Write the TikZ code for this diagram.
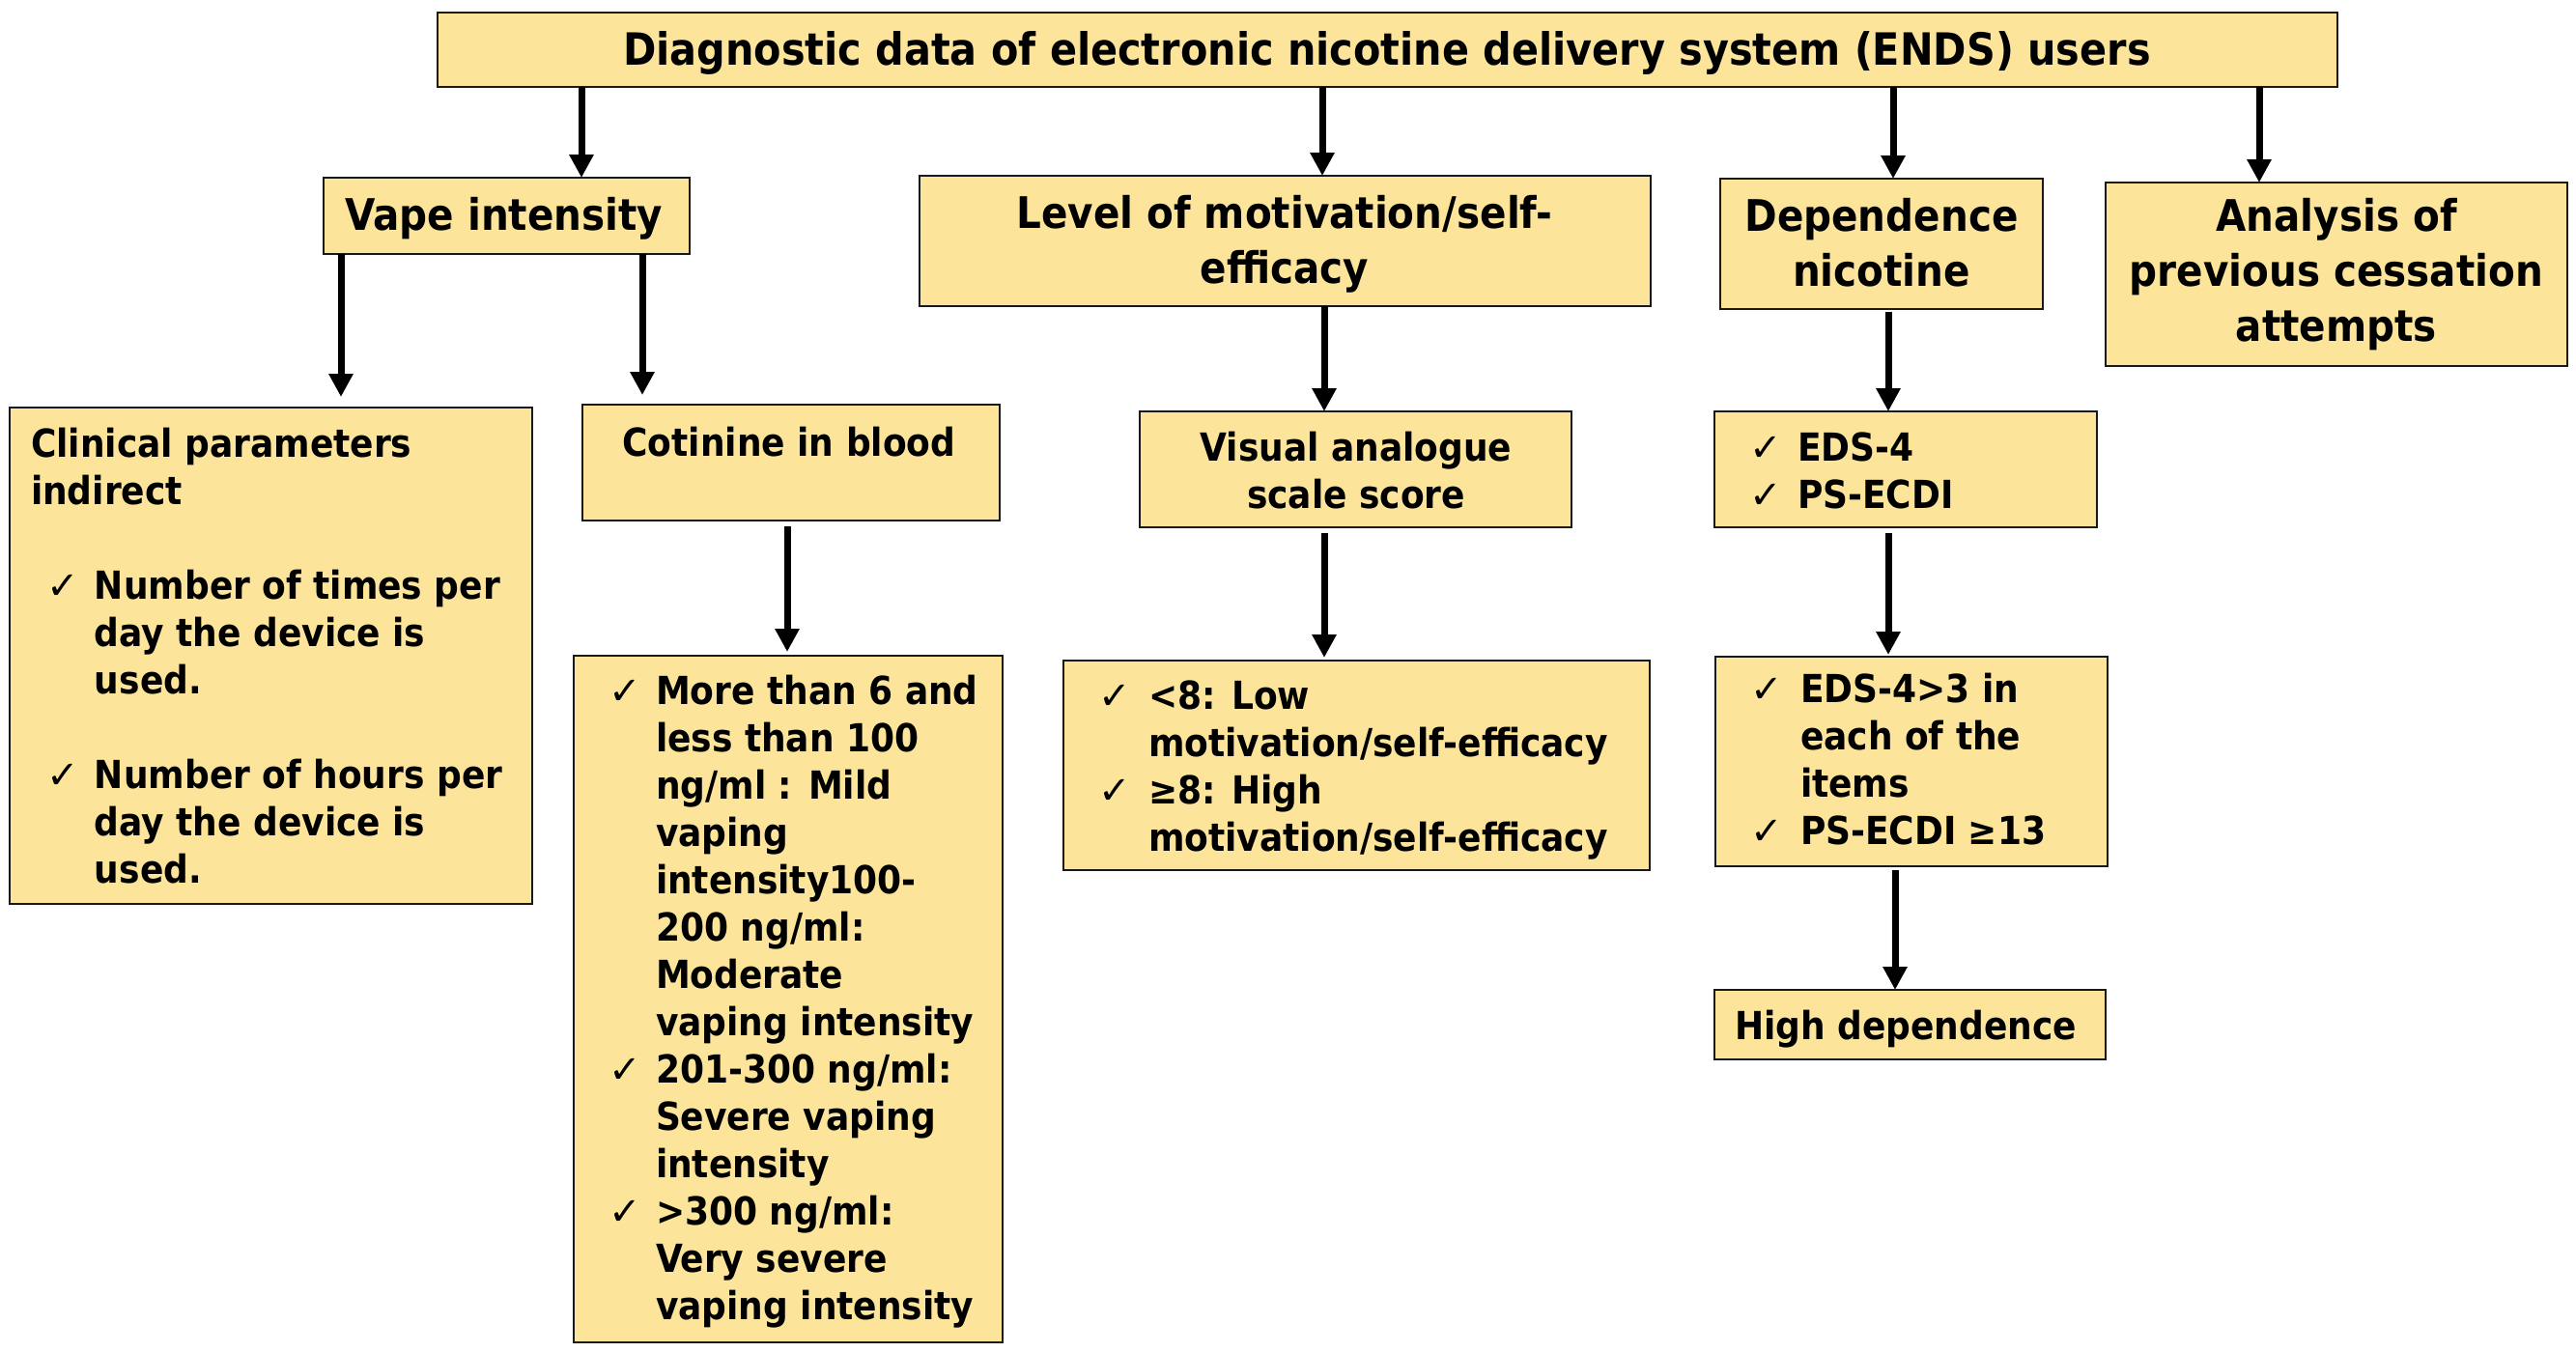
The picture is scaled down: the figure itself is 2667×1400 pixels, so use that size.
\documentclass[tikz,border=0pt]{standalone}
\usepackage{fontspec}
\setmainfont{DejaVu Sans Condensed}[BoldFont={DejaVu Sans Condensed Bold}]
\newfontfamily\chkfont{DejaVu Sans}
\usetikzlibrary{arrows.meta}
\definecolor{boxfill}{RGB}{252,229,155}
\definecolor{boxline}{RGB}{25,25,25}
\newcommand{\ck}{{\chkfont\mdseries\fontsize{40}{49}\selectfont ✓}}
\newcommand{\bx}[5]{\node[box, minimum width={#4-#2}, minimum height={#5-#3}] (#1) at ({(#2+#4)/2},{(#3+#5)/2}) {};}
\begin{document}
\begin{tikzpicture}[x=1pt,y=-1pt,
  box/.style={draw=boxline, line width=2.2pt, fill=boxfill, rectangle, inner sep=0pt, outer sep=0pt},
  arr/.style={line width=7pt, -{Triangle[width=24pt,length=24pt]}},
  bodytxt/.style={font=\fontsize{40}{49}\selectfont\bfseries, inner sep=0pt, outer sep=0pt},
  headtxt/.style={font=\fontsize{45}{57}\selectfont\bfseries, inner sep=0pt, outer sep=0pt},
  titletxt/.style={font=\fontsize{46}{58}\selectfont\bfseries, inner sep=0pt, outer sep=0pt}]
\useasboundingbox (0,0) rectangle (2667,1400);

% boxes
\bx{top}{453}{13}{2420}{90}
\bx{vape}{335}{184}{714}{263}
\bx{level}{952}{182}{1709}{317}
\bx{dep}{1781}{185}{2115}{320}
\bx{anal}{2180}{189}{2658}{379}
\bx{clin}{10}{422}{551}{936}
\bx{cot}{603}{419}{1035}{539}
\bx{cotlist}{594}{679}{1038}{1390}
\bx{vas}{1180}{426}{1627}{546}
\bx{motlist}{1101}{684}{1708}{901}
\bx{eds}{1775}{426}{2171}{546}
\bx{edslist}{1776}{680}{2182}{897}
\bx{high}{1775}{1025}{2180}{1097}

% texts
\node[titletxt, anchor=base] (ttitle) at (1436,67) {Diagnostic data of electronic nicotine delivery system (ENDS) users};
\node[headtxt, anchor=base] (tvape) at (522,238) {Vape intensity};
\node[headtxt, anchor=north] (tlevel) at (1330,197) {\begin{tabular}{@{}c@{}}Level of motivation/self-\\efficacy\end{tabular}};
\node[headtxt, anchor=north] (tdep) at (1948,199.1) {\begin{tabular}{@{}c@{}}Dependence\\nicotine\end{tabular}};
\node[headtxt, anchor=north] (tanal) at (2419,200) {\begin{tabular}{@{}c@{}}Analysis of\\previous cessation\\attempts\end{tabular}};

\node[bodytxt, anchor=north west] (tclin) at (32,438.7) {\begin{tabular}{@{}p{16pt}@{}p{50pt}@{}l@{}}
\multicolumn{3}{@{}l@{}}{Clinical parameters}\\
\multicolumn{3}{@{}l@{}}{indirect}\\
 & & \\
 & \ck & Number of times per\\
 & & day the device is\\
 & & used.\\
 & & \\
 & \ck & Number of hours per\\
 & & day the device is\\
 & & used.
\end{tabular}};

\node[bodytxt, anchor=base] (tcot) at (817,472) {Cotinine in blood};

\node[bodytxt, anchor=north west] (tcotlist) at (630,694.7) {\begin{tabular}{@{}p{49pt}@{}l@{}}
\ck & More than 6 and\\
 & less than 100\\
 & ng/ml : Mild\\
 & vaping\\
 & intensity100-\\
 & 200 ng/ml:\\
 & Moderate\\
 & vaping intensity\\
\ck & 201-300 ng/ml:\\
 & Severe vaping\\
 & intensity\\
\ck & >300 ng/ml:\\
 & Very severe\\
 & vaping intensity
\end{tabular}};

\node[bodytxt, anchor=north] (tvas) at (1404,442.7) {\begin{tabular}{@{}c@{}}Visual analogue\\scale score\end{tabular}};

\node[bodytxt, anchor=north west] (tmot) at (1137,699.7) {\begin{tabular}{@{}p{52pt}@{}l@{}}
\ck & <8: Low\\
 & motivation/self-efficacy\\
\ck & ≥8: High\\
 & motivation/self-efficacy
\end{tabular}};

\node[bodytxt, anchor=north west] (teds) at (1811,442.7) {\begin{tabular}{@{}p{50pt}@{}l@{}}
\ck & EDS-4\\
\ck & PS-ECDI
\end{tabular}};

\node[bodytxt, anchor=north west] (tedslist) at (1812,692.7) {\begin{tabular}{@{}p{52pt}@{}l@{}}
\ck & EDS-4>3 in\\
 & each of the\\
 & items\\
\ck & PS-ECDI ≥13
\end{tabular}};

\node[bodytxt, anchor=base west] (thigh) at (1796,1076) {High dependence};

% connector x positions
\coordinate (x1) at (602,0);
\coordinate (x2) at (1369,0);
\coordinate (x3) at (1960,0);
\coordinate (x4) at (2339,0);
\coordinate (x5) at (353,0);
\coordinate (x6) at (665,0);
\coordinate (x7) at (815,0);
\coordinate (x8) at (1371,0);
\coordinate (x9) at (1955,0);
\coordinate (x10) at (1962,0);

\draw[arr] (top.south -| x1) -- (vape.north -| x1);
\draw[arr] (top.south -| x2) -- (level.north -| x2);
\draw[arr] (top.south -| x3) -- (dep.north -| x3);
\draw[arr] (top.south -| x4) -- (anal.north -| x4);
\draw[arr, shorten >=11pt] (vape.south -| x5) -- (clin.north -| x5);
\draw[arr, shorten >=10pt] (vape.south -| x6) -- (cot.north -| x6);
\draw[arr, shorten <=6pt, shorten >=4pt] (cot.south -| x7) -- (cotlist.north -| x7);
\draw[arr] (level.south -| x8) -- (vas.north -| x8);
\draw[arr, shorten <=6pt, shorten >=3pt] (vas.south -| x8) -- (motlist.north -| x8);
\draw[arr, shorten <=3pt] (dep.south -| x9) -- (eds.north -| x9);
\draw[arr, shorten <=6pt, shorten >=2pt] (eds.south -| x9) -- (edslist.north -| x9);
\draw[arr, shorten <=4pt] (edslist.south -| x10) -- (high.north -| x10);
\end{tikzpicture}
\end{document}
